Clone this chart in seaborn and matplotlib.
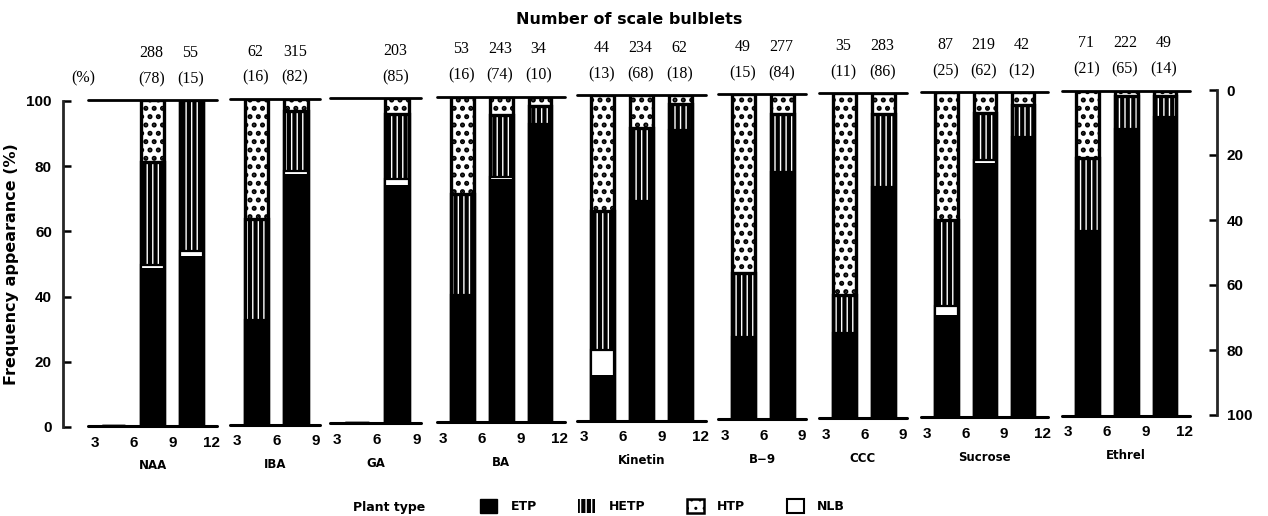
import matplotlib
matplotlib.use("Agg")
import matplotlib.pyplot as plt
from matplotlib.patches import Patch
import numpy as np
import pandas as pd
import seaborn as sns

# ---------------- data ----------------
treatments = ["NAA", "IBA", "GA", "BA", "Kinetin", "B\u22129", "CCC", "Sucrose", "Ethrel"]

# bin edges of scale length (mm) for each treatment
bin_edges = {
    "NAA": [3, 6, 9, 12],
    "IBA": [3, 6, 9],
    "GA": [3, 6, 9],
    "BA": [3, 6, 9, 12],
    "Kinetin": [3, 6, 9, 12],
    "B\u22129": [3, 6, 9],
    "CCC": [3, 6, 9],
    "Sucrose": [3, 6, 9, 12],
    "Ethrel": [3, 6, 9, 12],
}

# frequency (%) of each plant type per bin
etp = {
    "NAA": [0, 48.5, 52.0],
    "IBA": [32.0, 77.0],
    "GA": [0, 73.3],
    "BA": [39.0, 74.6, 91.7],
    "Kinetin": [14.0, 67.4, 89.3],
    "B\u22129": [25.4, 76.1],
    "CCC": [26.2, 71.1],
    "Sucrose": [31.4, 78.1, 86.3],
    "Ethrel": [56.7, 88.2, 92.0],
}
nlb = {
    "NAA": [0, 0.8, 1.7],
    "IBA": [0, 0.7],
    "GA": [0, 1.7],
    "BA": [0, 0.7, 0],
    "Kinetin": [7.6, 0, 0],
    "B\u22129": [0, 0],
    "CCC": [0, 0],
    "Sucrose": [2.8, 1.0, 0],
    "Ethrel": [0, 0, 0],
}
hetp = {
    "NAA": [0, 31.5, 46.3],
    "IBA": [31.0, 18.6],
    "GA": [0, 20.0],
    "BA": [31.2, 19.0, 5.3],
    "Kinetin": [42.8, 22.4, 8.1],
    "B\u22129": [19.5, 17.9],
    "CCC": [11.8, 22.5],
    "Sucrose": [26.4, 14.4, 9.6],
    "Ethrel": [22.6, 10.3, 6.2],
}
htp = {
    "NAA": [0, 19.2, 0],
    "IBA": [37.0, 3.7],
    "GA": [0, 5.0],
    "BA": [29.8, 5.7, 3.0],
    "Kinetin": [35.6, 10.2, 2.6],
    "B\u22129": [55.1, 6.0],
    "CCC": [62.0, 6.4],
    "Sucrose": [39.4, 6.5, 4.1],
    "Ethrel": [20.7, 1.5, 1.8],
}

# number of scale bulblets per bin and its share of the treatment (%)
counts = {
    "NAA": [None, 288, 55],
    "IBA": [62, 315],
    "GA": [None, 203],
    "BA": [53, 243, 34],
    "Kinetin": [44, 234, 62],
    "B\u22129": [49, 277],
    "CCC": [35, 283],
    "Sucrose": [87, 219, 42],
    "Ethrel": [71, 222, 49],
}
shares = {
    "NAA": [None, 78, 15],
    "IBA": [16, 82],
    "GA": [None, 85],
    "BA": [16, 74, 10],
    "Kinetin": [13, 68, 18],
    "B\u22129": [15, 84],
    "CCC": [11, 86],
    "Sucrose": [25, 62, 12],
    "Ethrel": [21, 65, 14],
}

y_ticks = [0, 20, 40, 60, 80, 100]

# ---------------- layout ----------------
W, H = 1268, 516
panel_spans = [(88, 217), (230, 320), (330, 421), (437, 565), (577, 706),
               (718, 806), (819, 907), (921, 1048), (1062, 1190)]

def top_px(x):
    return 100.5 - 0.0095 * (x - 88)

def bottom_px(x):
    return 426.5 - 0.0105 * (x - 88)

def fx(px):
    return px / W

def fy(py):
    return 1 - py / H

sns.set_theme(style="white")
plt.rcParams["font.family"] = ["DejaVu Sans"]
plt.rcParams.update({
    "text.color": "black", "axes.labelcolor": "black",
    "xtick.color": "black", "ytick.color": "black",
})

DOT_HATCH = ".."
DOT_LW = 2.4    # hatch stroke for the dotted HTP pattern
WAVE_LW = 1.0   # hatch stroke for the HETP stripes

SANS_B = dict(fontfamily="Liberation Sans", fontweight="bold")
WIDE_B = dict(fontfamily="DejaVu Sans", fontweight="bold")
SERIF = dict(fontfamily="Liberation Serif")

fig = plt.figure(figsize=(W / 100, H / 100), dpi=100)
fig.patch.set_facecolor("white")

def set_hatch_lw(patches, lw):
    for p in patches:
        if hasattr(p, "set_hatch_linewidth"):
            p.set_hatch_linewidth(lw)

for name, (x0, x1) in zip(treatments, panel_spans):
    xc = (x0 + x1) / 2
    t, b = top_px(xc), bottom_px(xc)
    ax = fig.add_axes([fx(x0), fy(b), fx(x1 - x0), (b - t) / H])
    ax.patch.set_alpha(0)

    edges = bin_edges[name]
    centers = [(edges[i] + edges[i + 1]) / 2 for i in range(len(edges) - 1)]
    e = np.array(etp[name], dtype=float)
    n = np.array(nlb[name], dtype=float)
    he = np.array(hetp[name], dtype=float)
    ht = np.array(htp[name], dtype=float)
    df = pd.DataFrame({
        "bin": centers,
        "etp": e,
        "nlb_top": e + n,
        "hetp_top": e + n + he,
        "total": e + n + he + ht,
    })

    common = dict(data=df, x="bin", native_scale=True, width=0.59,
                  errorbar=None, saturation=1, ax=ax)
    # HTP (dotted), drawn full height and covered by the lower segments
    with plt.rc_context({"hatch.linewidth": DOT_LW}):
        sns.barplot(y="total", color="white", edgecolor="black", linewidth=2.4,
                    hatch=DOT_HATCH, **common)
    set_hatch_lw(ax.containers[-1], DOT_LW)
    # HETP (black with white stripes)
    with plt.rc_context({"hatch.linewidth": WAVE_LW}):
        sns.barplot(y="hetp_top", color="black", edgecolor="white", linewidth=0,
                    hatch="|||", **common)
    set_hatch_lw(ax.containers[-1], WAVE_LW)
    sns.barplot(y="hetp_top", color="black", fill=False, linewidth=2.4, **common)
    # NLB (open)
    sns.barplot(y="nlb_top", color="white", edgecolor="black", linewidth=1.6,
                **common)
    # ETP (solid)
    sns.barplot(y="etp", color="black", edgecolor="black", linewidth=0, **common)

    ax.axhline(0, color="black", lw=2.2, clip_on=False, zorder=20)
    ax.axhline(100, color="black", lw=2.0, clip_on=False, zorder=20)

    xmax = 12.45 if len(edges) == 4 else 9.3
    ax.set_xlim(2.5, xmax)
    ax.set_ylim(0, 100)
    for s in ax.spines.values():
        s.set_visible(False)
    ax.set_yticks([])
    ax.set_ylabel("")
    ax.set_xticks(edges, labels=[str(v) for v in edges], fontsize=11, **SANS_B)
    ax.tick_params(axis="x", length=0, pad=7)
    ax.set_xlabel(name, fontsize=8.5, labelpad=7, **WIDE_B)

    for xcv, c, s in zip(centers, counts[name], shares[name]):
        if c is None:
            continue
        ax.annotate(str(c), xy=(xcv, 100), xytext=(-1, 34), textcoords="offset points",
                    ha="center", va="center", fontsize=11.5, **SERIF)
        ax.annotate(f"({s})", xy=(xcv, 100), xytext=(-1, 15), textcoords="offset points",
                    ha="center", va="center", fontsize=11.5, **SERIF)

# left frequency axis
axl = fig.add_axes([fx(63), fy(427), fx(12), (427 - 101) / H])
axl.patch.set_alpha(0)
axl.set_ylim(0, 100)
axl.set_xticks([])
for k, s in axl.spines.items():
    s.set_visible(k == "left")
axl.spines["left"].set_linewidth(2.0)
axl.set_yticks(y_ticks, labels=[str(v) for v in y_ticks], fontsize=11, **SANS_B)
axl.tick_params(axis="y", direction="in", length=6, width=1.8, pad=8, left=True)
axl.set_ylabel("Frequency appearance (%)", fontsize=11.5, labelpad=5, **WIDE_B)

# right frequency axis (inverted)
axr = fig.add_axes([fx(1205), fy(415), fx(12), (415 - 90) / H])
axr.patch.set_alpha(0)
axr.set_ylim(100, 0)
axr.set_xticks([])
for k, s in axr.spines.items():
    s.set_visible(k == "right")
axr.spines["right"].set_linewidth(2.0)
axr.yaxis.tick_right()
axr.set_yticks(y_ticks, labels=[str(v) for v in y_ticks], fontsize=11, **SANS_B)
axr.tick_params(axis="y", direction="in", length=6, width=1.8, pad=7, right=True)

# header
fig.text(fx(629), fy(19), "Number of scale bulblets", ha="center", va="center",
         fontsize=11.5, **WIDE_B)
fig.text(fx(83), fy(78), "(%)", ha="center", va="center", fontsize=11.5, **SERIF)

# legend
fig.text(fx(353), fy(507), "Plant type", ha="left", va="center", fontsize=9, **WIDE_B)
with plt.rc_context({"hatch.linewidth": WAVE_LW}):
    h_hetp = Patch(facecolor="black", edgecolor="white", hatch="|||", linewidth=0,
                   label="HETP")
with plt.rc_context({"hatch.linewidth": DOT_LW}):
    h_htp = Patch(facecolor="white", edgecolor="black", hatch=DOT_HATCH, linewidth=1.8,
                  label="HTP")
set_hatch_lw([h_hetp], WAVE_LW)
set_hatch_lw([h_htp], DOT_LW)
handles = [
    Patch(facecolor="black", edgecolor="black", label="ETP"),
    h_hetp,
    h_htp,
    Patch(facecolor="white", edgecolor="black", linewidth=1.5, label="NLB"),
]
fig.legend(handles=handles, loc="center left", bbox_to_anchor=(fx(480), fy(506)),
           ncol=4, frameon=False, handlelength=1.35, handleheight=1.35,
           handletextpad=1.1, columnspacing=3.3, borderpad=0, borderaxespad=0,
           prop=dict(family="DejaVu Sans", weight="bold", size=9))

fig.savefig("out.png", dpi=100, facecolor="white")
